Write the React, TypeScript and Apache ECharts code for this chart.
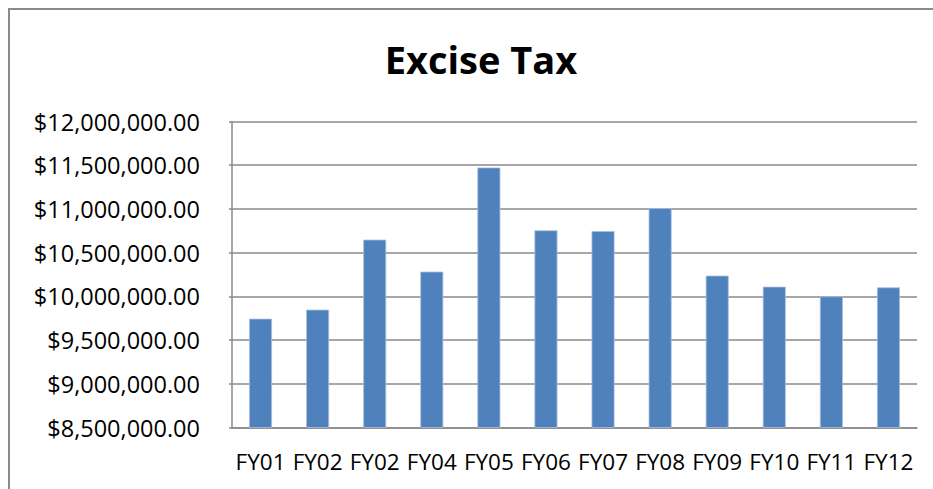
import React, { useEffect, useRef } from "react";
import * as echarts from "echarts";

const categories = ["FY01", "FY02", "FY02", "FY04", "FY05", "FY06", "FY07", "FY08", "FY09", "FY10", "FY11", "FY12"];
const exciseTax = [9745000, 9848000, 10649000, 10283000, 11474000, 10755000, 10747000, 11010000, 10237000, 10111000, 10000000, 10103000];
const yMin = 8500000;
const yMax = 12000000;
const yStep = 500000;
const titleText = "Excise Tax";

const FONT = "'Open Sans', 'Noto Sans', sans-serif";

export default function App() {
  const ref = useRef<HTMLDivElement>(null);
  useEffect(() => {
    if (!ref.current) return;
    const chart = echarts.init(ref.current, null, { renderer: "svg" });
    chart.setOption({
      animation: false,
      backgroundColor: "#ffffff",
      title: {
        text: titleText,
        top: 35,
        left: 476,
        textAlign: "center",
        textStyle: { fontFamily: FONT, fontSize: 38, fontWeight: "bold", color: "#000000" },
      },
      graphic: [
        {
          type: "rect",
          shape: { x: 9, y: 9, width: 950, height: 510 },
          style: { fill: "none", stroke: "#8a8a8a", lineWidth: 2 },
          silent: true,
        },
      ],
      grid: { left: 232, top: 121.5, right: 16, bottom: 61.5, containLabel: false },
      xAxis: {
        type: "category",
        data: categories,
        axisLine: { show: true, lineStyle: { color: "#8a8a8a", width: 1.5 } },
        axisTick: { show: false },
        axisLabel: {
          interval: 0,
          margin: 22,
          fontFamily: FONT,
          fontSize: 22.5,
          color: "#000000",
        },
      },
      yAxis: {
        type: "value",
        min: yMin,
        max: yMax,
        interval: yStep,
        axisLine: { show: true, lineStyle: { color: "#8a8a8a", width: 1.5 } },
        axisTick: { show: true, length: 3, lineStyle: { color: "#8a8a8a", width: 1.5 } },
        splitLine: { show: true, lineStyle: { color: "#8a8a8a", width: 1.5 } },
        axisLabel: {
          margin: 32,
          fontFamily: FONT,
          fontSize: 23.5,
          color: "#000000",
          formatter: (v: number) =>
            "$" + v.toLocaleString("en-US", { minimumFractionDigits: 2, maximumFractionDigits: 2 }),
        },
      },
      series: [
        {
          type: "bar",
          data: exciseTax,
          barWidth: 23,
          itemStyle: { color: "#4F81BD", borderColor: "#a9c0de", borderWidth: 0.8 },
        },
      ],
    });
    return () => chart.dispose();
  }, []);
  return (
    <div
      ref={ref}
      style={{ position: "absolute", left: 0, top: 0, width: 933, height: 489 }}
    />
  );
}
